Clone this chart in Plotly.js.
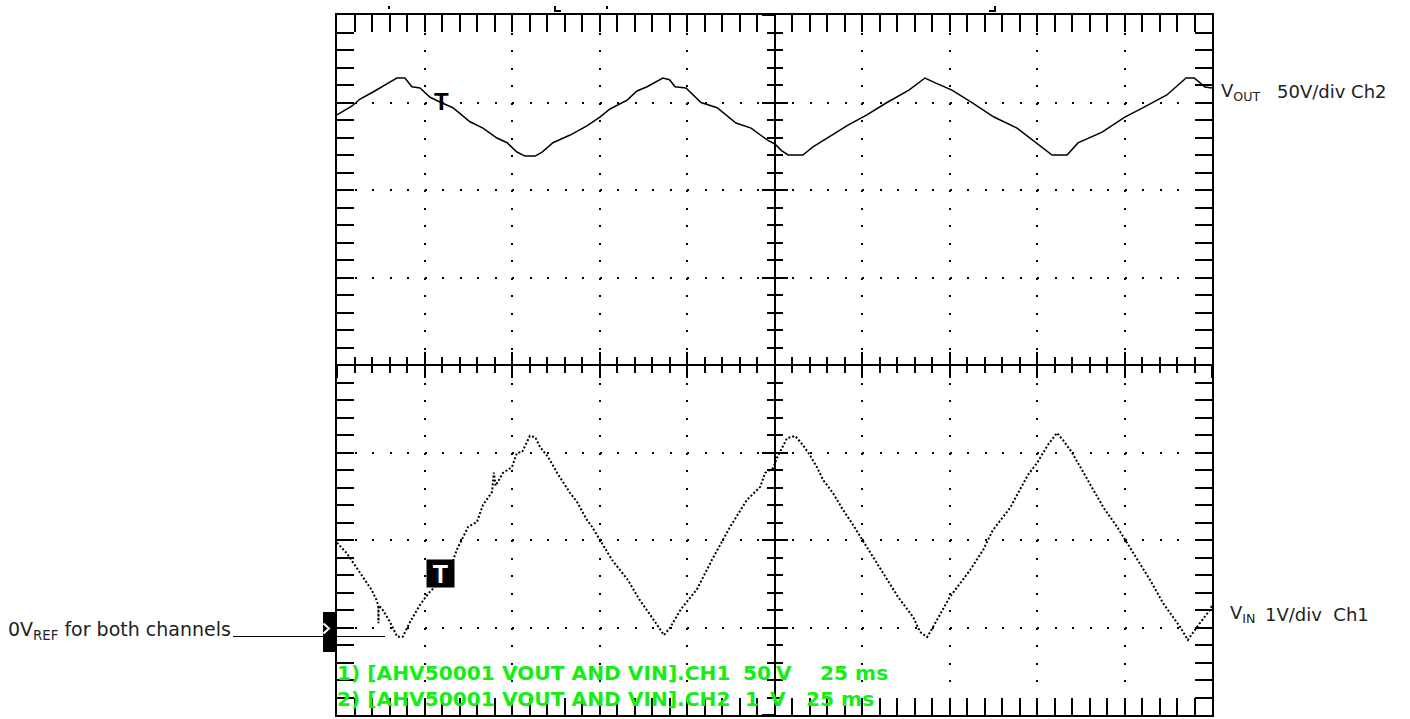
<!DOCTYPE html>
<html>
<head>
<meta charset="utf-8">
<script src="https://cdn.plot.ly/plotly-3.0.1.min.js"></script>
<style>
  html, body { margin: 0; padding: 0; background: #ffffff; }
  #chart { width: 1410px; height: 719px; }
</style>
</head>
<body>
<div id="chart"></div>
<script>
// ---------------- data (time in ms, 25 ms/div) ----------------
// Ch2 : VOUT (50 V/div), 0 V reference one division above the bottom
const voutTime = [0, 4.3, 6.6, 10.3, 15.1, 17.1, 19.4, 21.4, 23.7, 26.6, 29.4, 33.1, 38.0, 41.7, 45.7, 48.6,
  51.4, 53.7, 56.6, 58.6, 61.7, 66.6, 71.4, 75.1, 78.0, 82.9, 85.7, 88.6, 93.1, 95.0, 96.6, 99.7, 104.0,
  108.6, 114.0, 118.3, 122.9, 125.1, 127.0, 128.9, 133.1, 136.0, 141.4, 146.0, 151.4, 156.9, 163.4, 168.0,
  171.1, 175.7, 181.1, 187.7, 194.3, 199.7, 204.3, 208.6, 211.7, 218.6, 225.1, 230.6, 237.1, 242.6, 244.9,
  248.0, 250];
const voutVolts = [293, 298, 302, 306, 311.7, 314, 314, 309, 308.3, 303, 300.3, 297, 289, 285.4, 279.7, 277,
  271.7, 269.4, 269.4, 271.7, 277, 281.4, 286.6, 291.7, 296.3, 301.4, 306.6, 309, 314, 313, 309, 308.3, 300,
  297, 288.3, 285.4, 278.6, 276.3, 272.5, 270, 270, 274.6, 281.4, 287.1, 292.9, 299.7, 307.1, 314,
  311.1, 307.1, 300.3, 291.7, 285.4, 276.9, 270, 270, 276.9, 283.1, 291.7, 297.4, 304.3, 314, 314,
  308.9, 308.3];

// Ch1 : VIN (1 V/div)
const vinTime = [0, 1.8, 2.8, 7.4, 9.9, 11.3, 11.8, 11.85, 11.9, 12.8, 15.1, 17.2, 18.8, 20.9, 23.7, 26.1,
  28.0, 33.2, 34.2, 37.5, 40.0, 41.7, 44.3, 44.8, 45.3, 47.4, 50.0, 51.4, 52.9, 55.1, 56.6, 58.0, 60.3, 62.9,
  66.6, 68.6, 71.4, 72.9, 78.6, 83.1, 86.3, 90.9, 93.4, 95.1, 98.3, 102.9, 107.1, 112.3, 117.1, 120.9, 122.3,
  124.6, 125.7, 128.6, 130.9, 133.1, 135.1, 137.1, 138.9, 141.7, 144.6, 147.1, 151.4, 154.3, 157.1, 160.3,
  164.6, 166.6, 168.6, 170.3, 175.1, 180.9, 184.6, 187.4, 192.3, 197.4, 200.0, 203.1, 205.7, 207.4, 210.0,
  212.9, 216.0, 218.9, 222.9, 225.7, 228.6, 232.3, 236.0, 240.9, 243.1, 245.7, 249.4, 250];
const vinVolts = [0.97, 0.886, 0.848, 0.577, 0.429, 0.314, 0.25, 0.05, 0.25, 0.219, 0.066, -0.105, -0.105, 0.066,
  0.257, 0.39, 0.466, 0.771, 0.886, 1.152, 1.206, 1.40, 1.55, 1.77, 1.62, 1.766, 1.834, 1.994, 2.006, 2.189,
  2.177, 2.063, 1.949, 1.766, 1.537, 1.434, 1.229, 1.149, 0.771, 0.543, 0.326, 0.063, -0.086, -0.006, 0.211,
  0.44, 0.771, 1.149, 1.457, 1.606, 1.766, 1.823, 1.937, 2.166, 2.189, 2.086, 1.971, 1.834, 1.686, 1.537,
  1.343, 1.194, 0.92, 0.737, 0.566, 0.349, 0.12, -0.051, -0.109, 0.006, 0.349, 0.657, 0.886, 1.114, 1.366,
  1.743, 1.88, 2.086, 2.223, 2.143, 2.0, 1.8, 1.571, 1.377, 1.149, 0.966, 0.771, 0.543, 0.28, 0.006, -0.143,
  0.006, 0.2, 0.25];

// screen ranges
const timeRange = [0, 250];
const vinRange = [-1, 7];
const voutRange = [-50, 350];

// texts
const ch1Header = "1) [AHV50001 VOUT AND VIN].CH1";
const ch2Header = "2) [AHV50001 VOUT AND VIN].CH2";
const ch1Scale = ["50", "V", "25 ms"];
const ch2Scale = ["1", "V", "25 ms"];

// ---------------- geometry helpers (pixel -> paper) ----------------
const W = 1410, H = 719, ML = 337, MR = 198, MT = 15, MB = 4;
const PW = W - ML - MR, PH = H - MT - MB;
const px = x => (x - ML) / PW;
const py = y => (H - MB - y) / PH;

const BLK = '#000000';
const GREEN = '#14ee14';
const LABEL = '#222222';

const baseAxis = {
  showline: true, linewidth: 2, linecolor: BLK, mirror: 'allticks',
  ticks: 'inside', ticklen: 17, tickwidth: 2, tickcolor: BLK,
  showticklabels: false, zeroline: false,
  showgrid: true, gridcolor: BLK, gridwidth: 2, griddash: '2px,15.5px',
  fixedrange: true
};
const centerAxis = (extra) => Object.assign({
  showline: true, linewidth: 2, linecolor: BLK, showticklabels: false,
  showgrid: false, zeroline: false, ticklen: 12, tickwidth: 2, tickcolor: BLK,
  anchor: 'free', position: 0.5, fixedrange: true
}, extra);

const traces = [
  { x: voutTime, y: voutVolts, xaxis: 'x', yaxis: 'y2', mode: 'lines',
    line: { color: BLK, width: 1.5 }, hoverinfo: 'skip' },
  { x: vinTime, y: vinVolts, xaxis: 'x', yaxis: 'y', mode: 'lines',
    line: { color: BLK, width: 2, dash: '2px,2px' }, hoverinfo: 'skip' },
  // carriers for the centre cross-hair axes
  { x: [null], y: [null], xaxis: 'x2', yaxis: 'y', mode: 'lines', hoverinfo: 'skip' },
  { x: [null], y: [null], xaxis: 'x3', yaxis: 'y', mode: 'lines', hoverinfo: 'skip' },
  { x: [null], y: [null], xaxis: 'x', yaxis: 'y3', mode: 'lines', hoverinfo: 'skip' },
  { x: [null], y: [null], xaxis: 'x', yaxis: 'y4', mode: 'lines', hoverinfo: 'skip' }
];

const green = (text, xpx, ypx) => ({
  text: text, xref: 'paper', yref: 'paper', x: px(xpx), y: py(ypx),
  xanchor: 'left', yanchor: 'middle', showarrow: false, borderpad: 0,
  font: { family: 'DejaVu Sans', size: 20.2, color: GREEN, weight: 'bold' }
});
const label = (text, xpx, ypx, size) => ({
  text: text, xref: 'paper', yref: 'paper', x: px(xpx), y: py(ypx),
  xanchor: 'left', yanchor: 'middle', showarrow: false, borderpad: 0,
  font: { family: 'DejaVu Sans', size: size || 18, color: LABEL }
});

const annotations = [
  green(ch1Header, 336, 673), green(ch1Scale[0], 742, 673), green(ch1Scale[1], 775, 673), green(ch1Scale[2], 819, 673),
  green(ch2Header, 336, 699), green(ch2Scale[0], 744, 699), green(ch2Scale[1], 769, 699), green(ch2Scale[2], 805, 699),
  label('0V<sub>REF</sub> for both channels', 7, 630, 19),
  label('V<sub>OUT</sub>', 1220, 92),
  label('50V/div Ch2', 1276, 92),
  label('V<sub>IN</sub>', 1229, 614),
  label('1V/div\u00a0\u00a0Ch1', 1264, 614),
  // trigger markers
  { text: '<b>T</b>', xref: 'paper', yref: 'paper', x: px(441), y: py(101), xanchor: 'center', yanchor: 'middle',
    showarrow: false, borderpad: 0, font: { family: 'Liberation Sans', size: 24, color: BLK } },
  { text: '<b>T</b>', xref: 'paper', yref: 'paper', x: px(440.5), y: py(573.5), xanchor: 'center', yanchor: 'middle',
    showarrow: false, borderpad: 0, width: 27, height: 27, bgcolor: BLK,
    font: { family: 'Liberation Sans', size: 25, color: '#ffffff' } }
];

const P = (x, y) => px(x) + ',' + py(y);
const shapes = [
  // channel reference marker on the left border
  { type: 'rect', xref: 'paper', yref: 'paper', x0: px(323), x1: px(337), y0: py(612), y1: py(652),
    fillcolor: BLK, line: { width: 0 } },
  { type: 'path', xref: 'paper', yref: 'paper', path: 'M' + P(323.5, 623.5) + 'L' + P(329, 628.5) + 'L' + P(323.5, 633.5),
    line: { color: '#ffffff', width: 2 } },
  // leader line from the 0V label
  { type: 'line', xref: 'paper', yref: 'paper', x0: px(233), x1: px(385), y0: py(636.5), y1: py(636.5),
    line: { color: BLK, width: 1.2 } },
  // small scope marks above the screen
  { type: 'line', xref: 'paper', yref: 'paper', x0: px(389), x1: px(389), y0: py(6), y1: py(9), line: { color: BLK, width: 2 } },
  { type: 'line', xref: 'paper', yref: 'paper', x0: px(607), x1: px(607), y0: py(6), y1: py(9), line: { color: BLK, width: 2 } },
  { type: 'path', xref: 'paper', yref: 'paper', path: 'M' + P(555, 6) + 'L' + P(555, 11) + 'L' + P(561, 11),
    line: { color: BLK, width: 2 } },
  { type: 'path', xref: 'paper', yref: 'paper', path: 'M' + P(995, 6) + 'L' + P(995, 11) + 'L' + P(989, 11),
    line: { color: BLK, width: 2 } }
];

const layout = {
  width: W, height: H,
  margin: { l: ML, r: MR, t: MT, b: MB, pad: 0 },
  paper_bgcolor: '#ffffff', plot_bgcolor: '#ffffff',
  showlegend: false, hovermode: false,
  xaxis: Object.assign({}, baseAxis, { range: timeRange, tick0: 0, dtick: 25,
    minor: { dtick: 5, ticks: 'inside', ticklen: 8, tickwidth: 2, tickcolor: BLK, showgrid: false } }),
  yaxis: Object.assign({}, baseAxis, { range: vinRange, tick0: 0, dtick: 1,
    minor: { dtick: 0.2, ticks: 'inside', ticklen: 8, tickwidth: 2, tickcolor: BLK, showgrid: false } }),
  yaxis2: { overlaying: 'y', range: voutRange, visible: false, fixedrange: true },
  xaxis2: centerAxis({ overlaying: 'x', range: timeRange, tick0: 0, dtick: 25, ticks: 'outside',
    minor: { dtick: 5, ticks: 'outside', ticklen: 7, tickwidth: 2, tickcolor: BLK } }),
  xaxis3: centerAxis({ overlaying: 'x', range: timeRange, tick0: 0, dtick: 25, ticks: 'inside',
    minor: { dtick: 5, ticks: 'inside', ticklen: 7, tickwidth: 2, tickcolor: BLK } }),
  yaxis3: centerAxis({ overlaying: 'y', range: vinRange, tick0: 0, dtick: 1, ticks: 'outside', side: 'left',
    minor: { dtick: 0.2, ticks: 'outside', ticklen: 7, tickwidth: 2, tickcolor: BLK } }),
  yaxis4: centerAxis({ overlaying: 'y', range: vinRange, tick0: 0, dtick: 1, ticks: 'inside', side: 'left',
    minor: { dtick: 0.2, ticks: 'inside', ticklen: 7, tickwidth: 2, tickcolor: BLK } }),
  annotations: annotations,
  shapes: shapes
};

Plotly.newPlot('chart', traces, layout, { staticPlot: true, displayModeBar: false });
</script>
</body>
</html>
